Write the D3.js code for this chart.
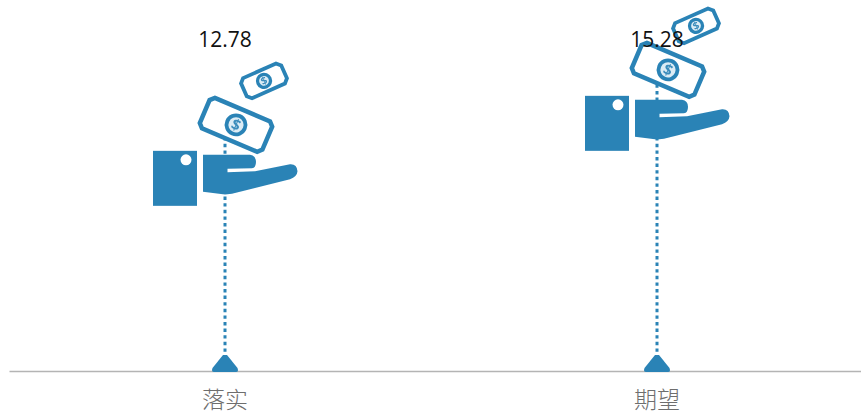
<!DOCTYPE html>
<html>
<head>
<meta charset="utf-8">
<script src="https://cdn.jsdelivr.net/npm/d3@7"></script>
<style>
  html, body { margin: 0; padding: 0; background: #fff; }
  svg { display: block; }
</style>
</head>
<body>
<svg id="chart" width="861" height="412"></svg>
<script>
// data
const categories = ['落实', '期望'];
const values = [12.78, 15.28];
const valueLabels = ['12.78', '15.28'];

const width = 861, height = 412;
const baseline = 371;
const blue = '#2a83b6';

const svg = d3.select('#chart');

// blur a touch, the original is an upscaled bitmap
const defs = svg.append('defs');
defs.append('filter').attr('id', 'soft')
  .append('feGaussianBlur').attr('stdDeviation', 0.5);

const x = d3.scaleBand().domain(categories).range([9, 873]);
const y = d3.scaleLinear().domain([0, 16]).range([baseline, baseline - 352]);

const rows = categories.map((c, i) => ({ cat: c, value: values[i], label: valueLabels[i] }));
const cx = (d) => x(d.cat) + x.bandwidth() / 2;

// ─── axis ───
const axis = svg.append('g')
  .attr('transform', `translate(0,${baseline})`)
  .call(d3.axisBottom(x).tickSize(0).tickPadding(21));
axis.select('.domain').attr('stroke', '#b4b4b4').attr('stroke-width', 1.4);
axis.selectAll('.tick text')
  .attr('font-family', '"Noto Sans CJK SC"')
  .attr('font-weight', 300)
  .attr('font-size', 23)
  .attr('fill', '#6e6e6e');

// ─── stems, they stop behind the big bill ───
svg.selectAll('line.stem').data(rows).join('line')
  .attr('class', 'stem')
  .attr('x1', cx).attr('x2', cx)
  .attr('y1', baseline - 6)
  .attr('y2', (d) => y(d.value) + 40)
  .attr('stroke', blue)
  .attr('stroke-width', 3)
  .attr('stroke-dasharray', '3.4 3.2');

// marker at the foot of each stem
const markerPath = 'M-2,-16 L2,-16 L12.5,-3 Q14,1 11,1 L-11,1 Q-14,1 -12.5,-3 Z';
svg.selectAll('path.foot').data(rows).join('path')
  .attr('class', 'foot')
  .attr('transform', (d) => `translate(${cx(d)},${baseline})`)
  .attr('d', markerPath)
  .attr('fill', blue);

// ─── money icon, drawn in local coordinates around the value point ───
const handPath = 'M-22,65 L25,65 Q31,66 31,72 Q31,78 27,78.5 L2.5,79 L2.5,82.5 L30,81.5 L65,74.5 ' +
  'Q72,74 72.5,81.5 Q72,87 65,89.5 L15,102 Q5,105 -2,104.5 L-22,102 Z';

function bill(g, cxLocal, cyLocal, angle, w, h, sw, r) {
  const b = g.append('g').attr('transform', `translate(${cxLocal},${cyLocal}) rotate(${angle})`);
  const n = 4;
  // outline with notched corners
  const p = `M${-w / 2 + n},${-h / 2} L${w / 2 - n},${-h / 2} L${w / 2},${-h / 2 + n} L${w / 2},${h / 2 - n} ` +
    `L${w / 2 - n},${h / 2} L${-w / 2 + n},${h / 2} L${-w / 2},${h / 2 - n} L${-w / 2},${-h / 2 + n} Z`;
  b.append('path').attr('d', p).attr('fill', '#fff').attr('stroke', blue)
    .attr('stroke-width', sw).attr('stroke-linejoin', 'miter');
  b.append('circle').attr('r', r).attr('fill', '#dcecf5').attr('stroke', blue).attr('stroke-width', sw * 0.85);
  b.append('text').text('$')
    .attr('text-anchor', 'middle')
    .attr('y', r * 0.55)
    .attr('font-family', 'Open Sans')
    .attr('font-weight', 700)
    .attr('font-size', r * 1.6)
    .attr('fill', '#3c8dbc');
}

const icons = svg.selectAll('g.icon').data(rows).join('g')
  .attr('class', 'icon')
  .attr('transform', (d) => `translate(${cx(d)},${y(d.value)})`)
  .attr('filter', 'url(#soft)');

icons.each(function () {
  const g = d3.select(this);
  bill(g, 39, -9, -24, 44, 22, 3.8, 6.5);
  bill(g, 11, 35, 23, 68, 33, 4.5, 9.5);
  g.append('rect').attr('x', -72).attr('y', 61).attr('width', 44).attr('height', 55).attr('fill', blue);
  g.append('circle').attr('cx', -39).attr('cy', 70).attr('r', 5.5).attr('fill', '#fff');
  g.append('path').attr('d', handPath).attr('fill', blue);
});

// ─── value labels, all on one line above the plot ───
svg.selectAll('text.val').data(rows).join('text')
  .attr('class', 'val')
  .attr('x', cx)
  .attr('y', 46.5)
  .attr('text-anchor', 'middle')
  .attr('font-family', 'Open Sans')
  .attr('font-size', 21)
  .attr('fill', '#111')
  .text((d) => d.label);
</script>
</body>
</html>
